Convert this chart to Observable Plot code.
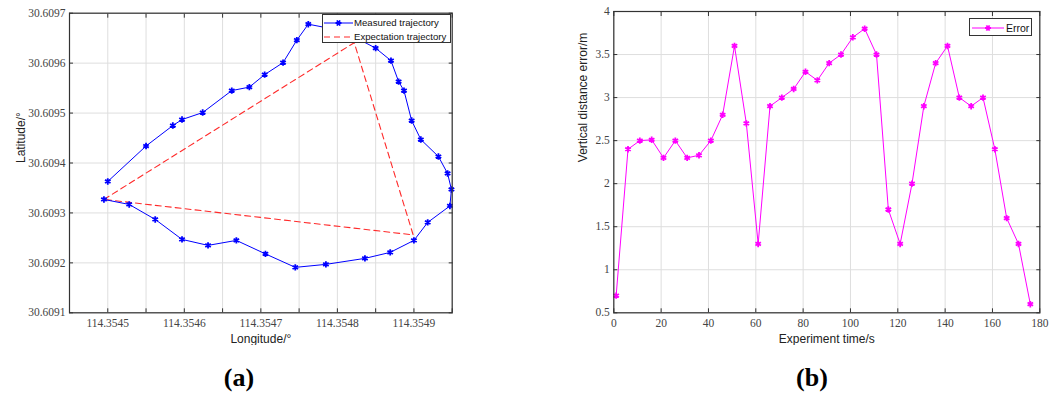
<!DOCTYPE html>
<html><head><meta charset="utf-8">
<script src="https://cdn.jsdelivr.net/npm/d3@7"></script>
<script src="https://cdn.jsdelivr.net/npm/@observablehq/plot@0.6"></script>
<style>
body{margin:0;background:#fff;width:1064px;height:396px;overflow:hidden;position:relative;font-family:"Liberation Sans",Arial,sans-serif}
.panel{position:absolute;top:0}
.legend{position:absolute;background:#fff;border:1px solid #333;box-sizing:border-box}
.legend svg{position:absolute;left:0;top:0;overflow:visible}
.legend text{font-family:"Liberation Sans",Arial,sans-serif;font-size:9.6px;fill:#111}
.cap{position:absolute;font-family:"Liberation Serif","Times New Roman",serif;font-weight:bold;font-size:26px;transform:translate(-50%,-50%);color:#000}
</style></head><body>
<div id="a" class="panel" style="left:0"></div>
<div id="b" class="panel" style="left:532px"></div>
<div class="cap" style="left:239px;top:378px">(a)</div>
<div class="cap" style="left:812px;top:378px">(b)</div>
<script>
// ---- Panel (a) data ----
const measuredLon = [114.354500,114.354550,114.354585,114.354597,114.354624,114.354662,114.354685,114.354705,114.354729,114.354747,114.354762,114.354792,114.354824,114.354850,114.354870,114.354880,114.354887,114.354897,114.354909,114.354932,114.354944,114.354949,114.354947,114.354918,114.354900,114.354869,114.354836,114.354785,114.354745,114.354706,114.354668,114.354631,114.354597,114.354562,114.354528,114.354495];
const measuredLat = [30.609363,30.609434,30.609475,30.609487,30.609501,30.609545,30.609552,30.609577,30.609601,30.609646,30.609678,30.609669,30.609651,30.609630,30.609605,30.609563,30.609545,30.609485,30.609447,30.609413,30.609379,30.609347,30.609314,30.609281,30.609245,30.609221,30.609209,30.609197,30.609191,30.609218,30.609245,30.609235,30.609247,30.609287,30.609317,30.609327];
const expectLon = [114.354495,114.354822,114.354899,114.354495];
const expectLat = [30.609327,30.609641,30.609256,30.609327];
const lonTicks = [114.35445,114.3545,114.35455,114.3546,114.35465,114.3547,114.35475,114.3548,114.35485,114.3549,114.35495];
const lonLabels = [114.3545,114.3546,114.3547,114.3548,114.3549];
const latTicks = [30.6091,30.6092,30.6093,30.6094,30.6095,30.6096,30.6097];

// ---- Panel (b) data ----
const timeS = [1,6,11,16,21,26,31,36,41,46,51,56,61,66,71,76,81,86,91,96,101,106,111,116,121,126,131,136,141,146,151,156,161,166,171,176];
const errorM = [0.7,2.4,2.5,2.51,2.3,2.5,2.3,2.33,2.5,2.8,3.6,2.7,1.3,2.9,3.0,3.1,3.3,3.2,3.4,3.5,3.7,3.8,3.5,1.7,1.3,2.0,2.9,3.4,3.6,3.0,2.9,3.0,2.4,1.6,1.3,0.6];
const timeTicks = [0,20,40,60,80,100,120,140,160,180];
const errorTicks = [0.5,1,1.5,2,2.5,3,3.5,4];

const measured = measuredLon.map((x,i)=>({x, y: measuredLat[i]}));
const expect = expectLon.map((x,i)=>({x, y: expectLat[i]}));
const errData = timeS.map((t,i)=>({t, e: errorM[i]}));

const gridC = "#dedede", frameC = "#333";
const sans = "Liberation Sans, Arial, sans-serif";
const serif = "Liberation Serif, Times New Roman, serif";

function frameAxes(xt, yt, xl, yl, xfmt, yfmt) {
  return [
    Plot.gridX(xt, {stroke: gridC, strokeOpacity: 1}),
    Plot.gridY(yt, {stroke: gridC, strokeOpacity: 1}),
    Plot.axisX(xt, {anchor: "bottom", tickSize: -4, text: null, label: null, stroke: frameC}),
    Plot.axisX(xt, {anchor: "top", tickSize: -4, text: null, label: null, stroke: frameC}),
    Plot.axisY(yt, {anchor: "left", tickSize: -4, text: null, label: null, stroke: frameC}),
    Plot.axisY(yt, {anchor: "right", tickSize: -4, text: null, label: null, stroke: frameC}),
    Plot.axisX(xl, {anchor: "bottom", tickSize: 0, tickPadding: 6, tickFormat: xfmt, label: null, fill: "#444", fontSize: 11.5, fontFamily: serif}),
    Plot.axisY(yl, {anchor: "left", tickSize: 0, tickPadding: 4, tickFormat: yfmt, label: null, fill: "#444", fontSize: 11.5, fontFamily: serif})
  ];
}

const plotA = Plot.plot({
  width: 532, height: 345,
  marginLeft: 69, marginRight: 80.3, marginTop: 12.7, marginBottom: 32.7,
  style: {fontFamily: serif, fontSize: "11.5px", background: "#fff"},
  x: {domain: [114.35445, 114.35495]},
  y: {domain: [30.6091, 30.6097]},
  marks: [
    ...frameAxes(lonTicks, latTicks, lonLabels, latTicks, d3.format(".4f"), d3.format(".4f")),
    Plot.line(expect, {x: "x", y: "y", stroke: "#ff2a2a", strokeWidth: 1.1, strokeDasharray: "6,4"}),
    Plot.line(measured, {x: "x", y: "y", stroke: "#0000ff", strokeWidth: 1}),
    Plot.dot(measured, {x: "x", y: "y", symbol: "asterisk", r: 3, stroke: "#0000ff", strokeWidth: 1.8}),
    Plot.frame({stroke: frameC, strokeWidth: 1.2}),
    Plot.text(["Latitude/°"], {frameAnchor: "left", dx: -48, rotate: -90, fontFamily: sans, fontSize: 12, fill: "#222", text: d => d}),
    Plot.text(["Longitude/°"], {frameAnchor: "bottom", dy: 26, lineAnchor: "middle", fontFamily: sans, fontSize: 12, fill: "#222", text: d => d})
  ]
});
document.getElementById("a").append(plotA);

const plotB = Plot.plot({
  width: 532, height: 345,
  marginLeft: 81.3, marginRight: 24.7, marginTop: 11, marginBottom: 32.7,
  style: {fontFamily: serif, fontSize: "11.5px", background: "#fff"},
  x: {domain: [0, 180]},
  y: {domain: [0.5, 4]},
  marks: [
    ...frameAxes(timeTicks, errorTicks, timeTicks, errorTicks, d3.format("d"), d => String(d)),
    Plot.line(errData, {x: "t", y: "e", stroke: "#ff00ff", strokeWidth: 1}),
    Plot.dot(errData, {x: "t", y: "e", symbol: "asterisk", r: 3, stroke: "#ff00ff", strokeWidth: 1.8}),
    Plot.frame({stroke: frameC, strokeWidth: 1.2}),
    Plot.text(["Vertical distance error/m"], {frameAnchor: "left", dx: -31, rotate: -90, fontFamily: sans, fontSize: 12, fill: "#222", text: d => d}),
    Plot.text(["Experiment time/s"], {frameAnchor: "bottom", dy: 26, lineAnchor: "middle", fontFamily: sans, fontSize: 12, fill: "#222", text: d => d})
  ]
});
document.getElementById("b").append(plotB);

// ---- Legends ----
const star = (cx, cy, c) => `<path d="M${cx-3},${cy}H${cx+3}M${cx-1.5},${cy-2.6}L${cx+1.5},${cy+2.6}M${cx-1.5},${cy+2.6}L${cx+1.5},${cy-2.6}" stroke="${c}" stroke-width="1.8" fill="none"/>`;
const legA = document.createElement("div");
legA.className = "legend";
legA.style.cssText = "left:322px;top:14px;width:129px;height:29px";
legA.innerHTML = `<svg width="129" height="29">
<line x1="1" x2="30" y1="8" y2="8" stroke="#0000ff" stroke-width="1"/>${star(15.5,8,"#0000ff")}
<line x1="1" x2="30" y1="22" y2="22" stroke="#ff2a2a" stroke-width="1.1" stroke-dasharray="6,4"/>
<text x="31" y="8" dy="0.35em">Measured trajectory</text>
<text x="31" y="22" dy="0.35em">Expectation trajectory</text></svg>`;
document.body.append(legA);

const legB = document.createElement("div");
legB.className = "legend";
legB.style.cssText = "left:969px;top:18px;width:63px;height:18px";
legB.innerHTML = `<svg width="63" height="18">
<line x1="2" x2="34" y1="9" y2="9" stroke="#ff00ff" stroke-width="1"/>${star(18,9,"#ff00ff")}
<text x="36" y="9" dy="0.35em" style="font-size:10.5px">Error</text></svg>`;
document.body.append(legB);
</script>
</body></html>
